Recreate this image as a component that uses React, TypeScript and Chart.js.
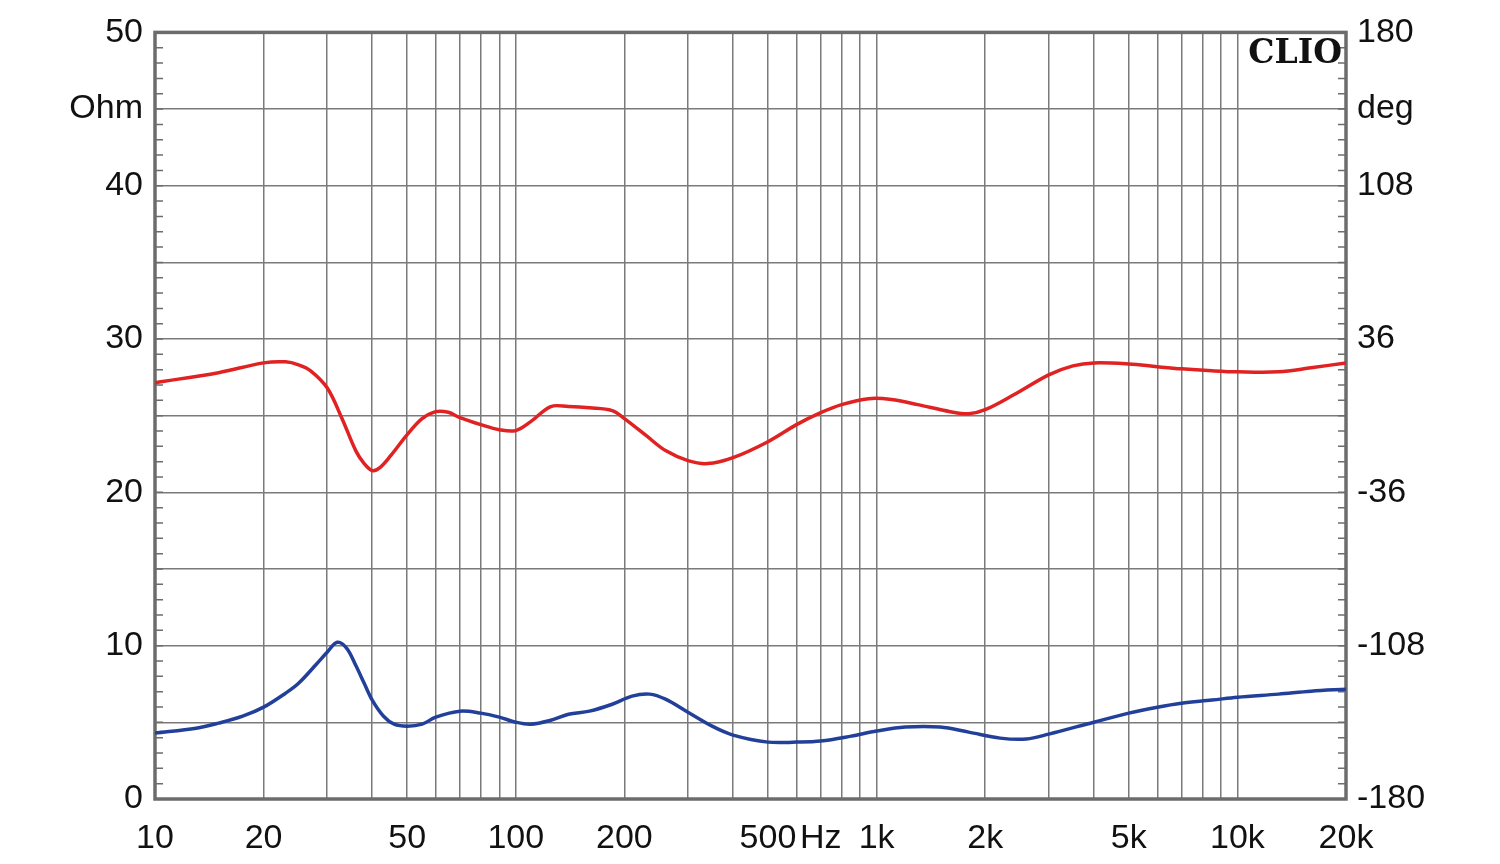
import React, { useEffect, useRef } from "react";
import { Chart, registerables } from "chart.js";

Chart.register(...registerables);

// Impedance magnitude (Ohm) — blue curve
const impFreqs = [10, 13, 15, 17.5, 20, 23, 25, 28, 30, 32, 34, 36, 38, 40, 43, 46, 50, 55, 60, 70, 80, 90, 100, 110, 125, 140, 160, 185, 210, 235, 260, 300, 350, 400, 500, 600, 700, 850, 1000, 1200, 1500, 1800, 2200, 2600, 3000, 4000, 5000, 6000, 7000, 8500, 10000, 13000, 16000, 20000];
const impOhm = [4.3, 4.62, 4.95, 5.4, 5.99, 6.9, 7.55, 8.79, 9.57, 10.22, 9.83, 8.72, 7.55, 6.45, 5.4, 4.88, 4.75, 4.88, 5.34, 5.73, 5.6, 5.34, 5.01, 4.88, 5.14, 5.53, 5.73, 6.18, 6.71, 6.84, 6.51, 5.66, 4.75, 4.17, 3.71, 3.71, 3.78, 4.1, 4.43, 4.69, 4.69, 4.36, 3.97, 3.91, 4.23, 5.01, 5.6, 5.99, 6.25, 6.45, 6.64, 6.84, 7.03, 7.16];

// Impedance phase (deg) — red curve
const phaseFreqs = [10, 15, 20, 23, 25, 27, 30, 33, 36, 38, 40, 42, 45, 50, 55, 60, 65, 70, 80, 90, 100, 110, 125, 140, 160, 185, 200, 230, 260, 300, 340, 400, 500, 600, 700, 800, 950, 1100, 1300, 1600, 1800, 2000, 2400, 3000, 3500, 4000, 5000, 6000, 7000, 8500, 10000, 13000, 16000, 20000];
const phaseDeg = [15.5, 20.2, 24.8, 25.3, 23.9, 21.1, 13.1, -1.4, -16.4, -22.5, -25.8, -24.4, -18.8, -8.9, -1.4, 1.9, 1.6, -0.9, -4.2, -6.6, -7.0, -2.8, 4.3, 4.3, 3.7, 2.4, -1.4, -9.4, -16.4, -21.1, -22.5, -19.7, -12.2, -4.2, 1.4, 5.2, 8.0, 7.6, 5.2, 1.9, 0.9, 2.8, 9.8, 19.2, 23.4, 24.8, 24.3, 23.0, 22.0, 21.1, 20.6, 20.6, 22.5, 24.8];

// Axis ticks
const xGridValues = [10, 20, 30, 40, 50, 60, 70, 80, 90, 100, 200, 300, 400, 500, 600, 700, 800, 900, 1000, 2000, 3000, 4000, 5000, 6000, 7000, 8000, 9000, 10000, 20000];
const xTickLabels: Record<number, string> = { 10: "10", 20: "20", 50: "50", 100: "100", 200: "200", 500: "500", 700: "Hz", 1000: "1k", 2000: "2k", 5000: "5k", 10000: "10k", 20000: "20k" };
const yLeftTicks = [0, 5, 10, 15, 20, 25, 30, 35, 40, 45, 50];
const yLeftLabels: Record<number, string> = { 0: "0", 10: "10", 20: "20", 30: "30", 40: "40", 45: "Ohm", 50: "50" };
const yRightTicks = [-180, -108, -36, 36, 108, 144, 180];
const yRightLabels: Record<number, string> = { [-180]: "-180", [-108]: "-108", [-36]: "-36", 36: "36", 108: "108", 144: "deg", 180: "180" };
const yMinorTicks = Array.from({ length: 51 }, (_, i) => i);

const GRID = "#7a7a7a";
const FRAME = "#6c6c6c";
const FONT = { family: "'Liberation Sans', Arial, sans-serif", size: 34 };

const framePlugin = {
  id: "frame",
  beforeDatasetsDraw(chart: any) {
    const { ctx, chartArea: a, scales } = chart;
    ctx.save();
    ctx.strokeStyle = FRAME;
    ctx.lineWidth = 1.5;
    const y = scales.y;
    yMinorTicks.forEach((v) => {
      const py = y.getPixelForValue(v);
      ctx.beginPath();
      ctx.moveTo(a.left, py);
      ctx.lineTo(a.left + 8, py);
      ctx.moveTo(a.right - 8, py);
      ctx.lineTo(a.right, py);
      ctx.stroke();
    });
    ctx.lineWidth = 3.5;
    ctx.strokeRect(a.left, a.top, a.right - a.left, a.bottom - a.top);
    ctx.restore();
  },
  afterDraw(chart: any) {
    const { ctx, chartArea: a } = chart;
    ctx.save();
    ctx.fillStyle = "#111";
    ctx.font = "bold 33px 'DejaVu Serif', 'Liberation Serif', serif";
    ctx.textAlign = "right";
    ctx.textBaseline = "alphabetic";
    ctx.fillText("CLIO", a.right - 4, a.top + 31);
    ctx.restore();
  },
};

export default function App() {
  const ref = useRef<HTMLCanvasElement | null>(null);
  useEffect(() => {
    document.body.style.margin = "0";
    const chart = new Chart(ref.current as HTMLCanvasElement, {
      type: "line",
      data: {
        datasets: [
          {
            data: phaseFreqs.map((f, i) => ({ x: f, y: phaseDeg[i] })),
            yAxisID: "y1",
            borderColor: "#e02222",
            borderWidth: 3.5,
            pointRadius: 0,
            tension: 0.35,
            fill: false,
          },
          {
            data: impFreqs.map((f, i) => ({ x: f, y: impOhm[i] })),
            yAxisID: "y",
            borderColor: "#22409a",
            borderWidth: 3.5,
            pointRadius: 0,
            tension: 0.35,
            fill: false,
          },
        ],
      },
      options: {
        responsive: false,
        animation: false,
        layout: { padding: { top: 31, left: 0, right: 0, bottom: 0 } },
        plugins: { legend: { display: false }, tooltip: { enabled: false } },
        scales: {
          x: {
            type: "logarithmic",
            min: 10,
            max: 20000,
            afterBuildTicks: (s: any) => {
              s.ticks = xGridValues.map((v) => ({ value: v }));
            },
            afterFit: (s: any) => {
              s.height = 65;
            },
            grid: { color: GRID, lineWidth: 1.5, drawTicks: false },
            border: { display: false },
            ticks: {
              autoSkip: false,
              maxRotation: 0,
              padding: 19,
              color: "#111",
              font: FONT,
              callback: (v: any) => xTickLabels[Number(v)] ?? "",
            },
          },
          y: {
            type: "linear",
            position: "left",
            min: 0,
            max: 50,
            afterBuildTicks: (s: any) => {
              s.ticks = yLeftTicks.map((v) => ({ value: v }));
            },
            afterFit: (s: any) => {
              s.width = 155;
            },
            grid: { color: GRID, lineWidth: 1.5, drawTicks: false },
            border: { display: false },
            ticks: {
              padding: 12,
              color: "#111",
              font: FONT,
              callback: (v: any) => yLeftLabels[Number(v)] ?? "",
            },
          },
          y1: {
            type: "linear",
            position: "right",
            min: -180,
            max: 180,
            afterBuildTicks: (s: any) => {
              s.ticks = yRightTicks.map((v) => ({ value: v }));
            },
            afterFit: (s: any) => {
              s.width = 154;
            },
            grid: { display: false, drawTicks: false },
            border: { display: false },
            ticks: {
              padding: 11,
              color: "#111",
              font: FONT,
              callback: (v: any) => yRightLabels[Number(v)] ?? "",
            },
          },
        },
      },
      plugins: [framePlugin],
    } as any);
    return () => chart.destroy();
  }, []);
  return (
    <div style={{ width: 1500, height: 864, background: "#fff" }}>
      <canvas ref={ref} width={1500} height={864} style={{ display: "block" }} />
    </div>
  );
}
